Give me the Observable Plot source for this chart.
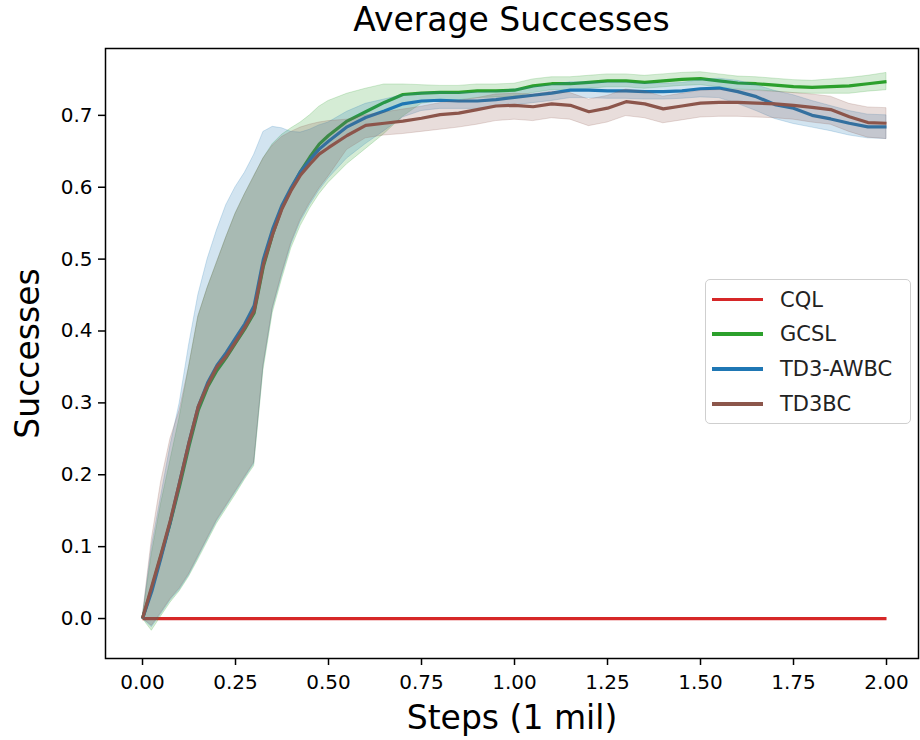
<!DOCTYPE html>
<html>
<head>
<meta charset="utf-8">
<script src="https://cdn.jsdelivr.net/npm/d3@7"></script>
<script src="https://cdn.jsdelivr.net/npm/@observablehq/plot@0.6"></script>
<style>
  html, body { margin: 0; padding: 0; background: #fff; }
  #wrap { position: relative; width: 920px; height: 740px; font-family: "DejaVu Sans", sans-serif; }
  #title { height: 40px; line-height: 40px; font-size: 33px; text-align: center; padding-left: 103px; box-sizing: border-box; width: 920px; color: #000; }
  #legend { position: absolute; left: 705px; top: 279px; width: 206px; height: 145px; border: 1px solid #cfcfcf; border-radius: 5px; background: rgba(255,255,255,0.85); box-sizing: border-box; }
  .row { position: absolute; left: 0; height: 34px; display: flex; align-items: center; }
  .sw { display: inline-block; width: 51px; height: 3.5px; margin-left: 6px; }
  .lb { margin-left: 17px; font-size: 21px; color: #222; }
</style>
</head>
<body>
<div id="wrap">
  <div id="title">Average Successes</div>
  <div id="chart"></div>
  <div id="legend"></div>
</div>
<script>
// Steps (1 mil)
const xs = [0, 0.025, 0.05, 0.075, 0.1, 0.125, 0.15, 0.175, 0.2, 0.225, 0.25, 0.275, 0.3, 0.325, 0.35, 0.375, 0.4, 0.425, 0.45, 0.475, 0.5,
  0.55, 0.6, 0.65, 0.7, 0.75, 0.8, 0.85, 0.9, 0.95, 1.0, 1.05, 1.1, 1.15, 1.2, 1.25, 1.3, 1.35, 1.4, 1.45, 1.5,
  1.55, 1.6, 1.65, 1.7, 1.75, 1.8, 1.85, 1.9, 1.95, 2.0];

const cqlMean = [0, 0, 0, 0, 0, 0, 0, 0, 0, 0, 0, 0, 0, 0, 0, 0, 0, 0, 0, 0, 0,
  0, 0, 0, 0, 0, 0, 0, 0, 0, 0, 0, 0, 0, 0, 0, 0, 0, 0, 0, 0,
  0, 0, 0, 0, 0, 0, 0, 0, 0, 0];

const gcslMean = [0, 0.042, 0.088, 0.134, 0.185, 0.24, 0.29, 0.322, 0.345, 0.363, 0.383, 0.403, 0.425, 0.49, 0.535, 0.572, 0.598, 0.622, 0.642, 0.66, 0.672,
  0.692, 0.705, 0.718, 0.729, 0.731, 0.732, 0.732, 0.734, 0.734, 0.735, 0.741, 0.744, 0.744, 0.746, 0.748, 0.748, 0.746, 0.748, 0.75, 0.751,
  0.748, 0.745, 0.744, 0.742, 0.74, 0.739, 0.74, 0.741, 0.744, 0.747];
const gcslLo = [0, -0.017, 0.003, 0.022, 0.038, 0.058, 0.082, 0.107, 0.132, 0.152, 0.172, 0.193, 0.212, 0.345, 0.425, 0.472, 0.515, 0.546, 0.57, 0.59, 0.606,
  0.632, 0.653, 0.674, 0.698, 0.716, 0.72, 0.721, 0.724, 0.725, 0.726, 0.731, 0.735, 0.735, 0.737, 0.739, 0.739, 0.737, 0.739, 0.741, 0.742,
  0.739, 0.736, 0.735, 0.733, 0.731, 0.73, 0.73, 0.73, 0.733, 0.735];
const gcslHi = [0, 0.09, 0.16, 0.22, 0.28, 0.35, 0.42, 0.46, 0.495, 0.53, 0.563, 0.59, 0.615, 0.64, 0.66, 0.673, 0.682, 0.69, 0.7, 0.712, 0.72,
  0.73, 0.737, 0.743, 0.743, 0.742, 0.741, 0.741, 0.743, 0.743, 0.744, 0.75, 0.753, 0.753, 0.755, 0.757, 0.757, 0.755, 0.757, 0.759, 0.76,
  0.757, 0.754, 0.753, 0.751, 0.749, 0.748, 0.75, 0.752, 0.755, 0.759];

const awbcMean = [0, 0.038, 0.085, 0.135, 0.19, 0.245, 0.295, 0.328, 0.352, 0.37, 0.39, 0.41, 0.435, 0.5, 0.542, 0.575, 0.6, 0.622, 0.638, 0.653, 0.664,
  0.684, 0.697, 0.706, 0.716, 0.72, 0.721, 0.72, 0.72, 0.722, 0.725, 0.728, 0.731, 0.735, 0.735, 0.734, 0.734, 0.733, 0.733, 0.734, 0.737,
  0.738, 0.733, 0.726, 0.715, 0.71, 0.7, 0.695, 0.689, 0.684, 0.684];
const awbcLo = [0, -0.012, 0.006, 0.025, 0.04, 0.06, 0.085, 0.11, 0.135, 0.155, 0.175, 0.195, 0.215, 0.35, 0.43, 0.477, 0.52, 0.552, 0.575, 0.595, 0.612,
  0.64, 0.66, 0.678, 0.697, 0.706, 0.709, 0.709, 0.709, 0.711, 0.714, 0.717, 0.72, 0.724, 0.724, 0.723, 0.723, 0.722, 0.722, 0.723, 0.725,
  0.724, 0.716, 0.706, 0.695, 0.688, 0.683, 0.678, 0.672, 0.668, 0.667];
const awbcHi = [0, 0.1, 0.17, 0.24, 0.3, 0.38, 0.45, 0.5, 0.54, 0.575, 0.6, 0.62, 0.645, 0.677, 0.684, 0.682, 0.677, 0.676, 0.68, 0.686, 0.69,
  0.705, 0.716, 0.722, 0.728, 0.731, 0.732, 0.731, 0.731, 0.733, 0.736, 0.739, 0.742, 0.746, 0.746, 0.745, 0.745, 0.744, 0.744, 0.745, 0.749,
  0.751, 0.748, 0.742, 0.734, 0.728, 0.72, 0.713, 0.706, 0.701, 0.7];

const td3bcMean = [0, 0.045, 0.09, 0.137, 0.19, 0.245, 0.295, 0.325, 0.35, 0.365, 0.385, 0.405, 0.428, 0.493, 0.535, 0.57, 0.596, 0.617, 0.632, 0.646, 0.655,
  0.672, 0.686, 0.689, 0.692, 0.696, 0.701, 0.703, 0.708, 0.713, 0.714, 0.712, 0.716, 0.714, 0.705, 0.71, 0.719, 0.716, 0.709, 0.713, 0.717,
  0.718, 0.718, 0.717, 0.716, 0.714, 0.711, 0.708, 0.698, 0.69, 0.689];
const td3bcLo = [0, -0.01, 0.008, 0.027, 0.042, 0.062, 0.087, 0.112, 0.137, 0.157, 0.177, 0.197, 0.217, 0.352, 0.432, 0.48, 0.523, 0.555, 0.578, 0.598, 0.615,
  0.652, 0.668, 0.672, 0.674, 0.677, 0.68, 0.683, 0.687, 0.692, 0.694, 0.692, 0.696, 0.694, 0.685, 0.69, 0.699, 0.696, 0.689, 0.693, 0.697,
  0.698, 0.698, 0.697, 0.696, 0.694, 0.69, 0.687, 0.677, 0.669, 0.667];
const td3bcHi = [0, 0.11, 0.19, 0.25, 0.29, 0.35, 0.42, 0.46, 0.495, 0.53, 0.563, 0.59, 0.615, 0.64, 0.658, 0.67, 0.677, 0.683, 0.687, 0.69, 0.692,
  0.694, 0.7, 0.704, 0.708, 0.712, 0.717, 0.72, 0.724, 0.729, 0.73, 0.729, 0.733, 0.731, 0.722, 0.727, 0.736, 0.733, 0.726, 0.73, 0.734,
  0.735, 0.735, 0.734, 0.733, 0.731, 0.729, 0.726, 0.716, 0.711, 0.71];

const seriesNames = ["CQL", "GCSL", "TD3-AWBC", "TD3BC"];
const seriesColors = ["#d62728", "#2ca02c", "#1f77b4", "#8c564b"];
const xTicks = [0, 0.25, 0.5, 0.75, 1.0, 1.25, 1.5, 1.75, 2.0];
const yTicks = [0, 0.1, 0.2, 0.3, 0.4, 0.5, 0.6, 0.7];
const titleText = "Average Successes";
const xLabel = "Steps (1 mil)";
const yLabel = "Successes";

const seriesData = [
  {mean: cqlMean, lo: null, hi: null},
  {mean: gcslMean, lo: gcslLo, hi: gcslHi},
  {mean: awbcMean, lo: awbcLo, hi: awbcHi},
  {mean: td3bcMean, lo: td3bcLo, hi: td3bcHi}
];

const marks = [];
seriesData.forEach((s, k) => {
  const rows = xs.map((x, i) => ({
    x, y: s.mean[i],
    lo: s.lo ? s.lo[i] : null,
    hi: s.hi ? s.hi[i] : null,
    series: seriesNames[k]
  }));
  const color = seriesColors[k];
  marks.push(Plot.line(rows, {x: "x", y: "y", stroke: color, strokeWidth: 3.2, strokeLinejoin: "round", strokeLinecap: "butt"}));
  if (s.lo) {
    marks.push(Plot.areaY(rows, {x: "x", y1: "lo", y2: "hi", fill: color, fillOpacity: 0.2, stroke: color, strokeOpacity: 0.2, strokeWidth: 1}));
  }
});

const chart = Plot.plot({
  width: 920,
  height: 700,
  marginTop: 8,
  marginBottom: 82,
  marginLeft: 105,
  marginRight: 2,
  style: {fontFamily: "DejaVu Sans, sans-serif", fontSize: "20px", color: "#000", background: "#fff"},
  x: {domain: [-0.0995, 2.086], label: null},
  y: {domain: [-0.0556, 0.793], label: null},
  marks: [
    ...marks,
    Plot.frame({stroke: "#000", strokeWidth: 1.5}),
    Plot.axisX({ticks: xTicks, tickFormat: d3.format(".2f"), tickSize: 7, tickPadding: 9, label: null, strokeWidth: 1.5, fontSize: 20}),
    Plot.axisY({ticks: yTicks, tickFormat: d3.format(".1f"), tickSize: 7, tickPadding: 6, label: null, strokeWidth: 1.5, fontSize: 20}),
    Plot.text([xLabel], {text: d => d, frameAnchor: "bottom", dy: 60, textAnchor: "middle", lineAnchor: "middle", fontSize: 33, fill: "#000"}),
    Plot.text([yLabel], {text: d => d, frameAnchor: "left", dx: -77, rotate: -90, textAnchor: "middle", lineAnchor: "middle", fontSize: 33, fill: "#000"})
  ]
});
document.getElementById("chart").appendChild(chart);
document.getElementById("title").textContent = titleText;

const legend = document.getElementById("legend");
const rowCenters = [19.5, 54, 89, 124];
seriesNames.forEach((name, k) => {
  const row = document.createElement("div");
  row.className = "row";
  row.style.top = (rowCenters[k] - 17) + "px";
  const sw = document.createElement("span");
  sw.className = "sw";
  sw.style.background = seriesColors[k];
  const lb = document.createElement("span");
  lb.className = "lb";
  lb.textContent = name;
  row.appendChild(sw);
  row.appendChild(lb);
  legend.appendChild(row);
});
</script>
</body>
</html>
